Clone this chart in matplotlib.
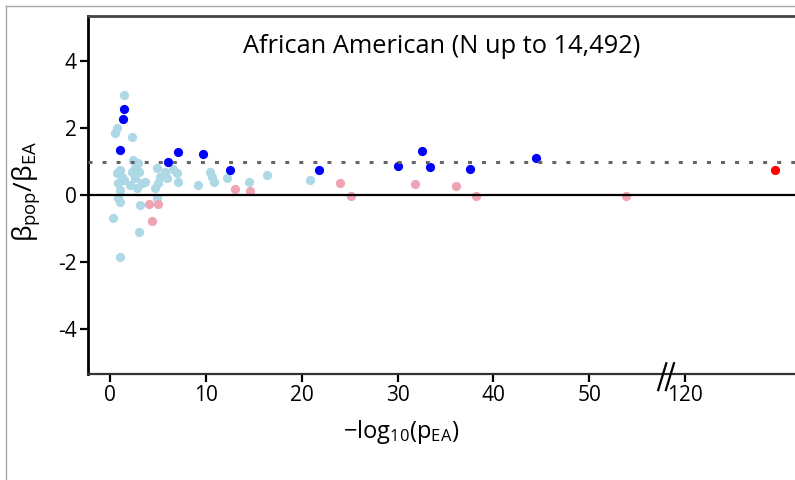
import matplotlib
matplotlib.use('Agg')
import matplotlib.pyplot as plt
from matplotlib.lines import Line2D
import matplotlib.transforms as mtransforms
import numpy as np

# values (x = -log10(p_EA), y = beta ratio)
light_x = [1.46, 0.7, 0.52, 2.26, 2.43, 2.96, 1.04, 0.7, 1.2, 0.87, 1.04, 2.26,
           2.6, 2.1, 2.8, 3.65, 4.86, 5.2, 5.04, 4.7, 5.74, 5.9, 7.1, 6.95,
           0.87, 4.86, 1.04, 0.35, 3.1, 3.06, 1.04, 2.6, 3.0, 6.6, 9.2, 10.4,
           10.6, 10.8, 12.2, 14.5, 16.4, 20.9, 1.5, 3.3]
light_y = [3.0, 2.0, 1.85, 1.75, 1.05, 0.95, 0.75, 0.65, 0.55, 0.35, 0.15, 0.7,
           0.5, 0.3, 0.2, 0.4, 0.8, 0.55, 0.35, 0.2, 0.7, 0.5, 0.4, 0.65,
           -0.1, -0.1, -0.22, -0.7, -0.3, -1.12, -1.85, 0.8, 0.7, 0.77, 0.3, 0.7,
           0.55, 0.4, 0.5, 0.38, 0.6, 0.45, 0.45, 0.35]

dark_x = [1.46, 1.39, 1.04, 7.1, 6.1, 9.7, 12.5, 21.8, 30.0, 32.6, 33.4, 37.6, 44.4]
dark_y = [2.57, 2.27, 1.35, 1.3, 0.98, 1.22, 0.75, 0.75, 0.87, 1.33, 0.83, 0.77, 1.1]

pink_x = [4.1, 5.04, 4.4, 13.0, 14.6, 24.0, 25.1, 31.8, 36.1, 38.2, 53.8]
pink_y = [-0.28, -0.28, -0.78, 0.17, 0.12, 0.35, -0.03, 0.33, 0.28, -0.02, -0.02]

red_x = [129.4]
red_y = [0.75]

xtick_vals = [0, 10, 20, 30, 40, 50, 120]
ytick_vals = [-4, -2, 0, 2, 4]

BREAK_AT = 56      # axis is cut between 56 and 116
BREAK_SHIFT = 60   # 120 is drawn where 60 would be


def squash(x):
    x = np.asarray(x, dtype=float)
    return np.where(x > BREAK_AT, x - BREAK_SHIFT, x)


plt.rcParams.update({
    'font.family': ['Open Sans', 'DejaVu Sans'],
    'mathtext.fontset': 'custom',
    'mathtext.rm': 'Open Sans',
    'mathtext.it': 'Open Sans',
})

fig = plt.figure(figsize=(7.95, 4.8), dpi=100)
ax = fig.add_axes([88 / 795, 106 / 480, 712 / 795, 358 / 480])

ms = 44
ax.scatter(squash(light_x), light_y, s=ms, color='#add8e6', marker='o', lw=0, zorder=2)
ax.scatter(squash(pink_x), pink_y, s=ms, color='#f0a3b3', marker='o', lw=0, zorder=3)
ax.scatter(squash(dark_x), dark_y, s=ms, color='#0000ff', marker='o', lw=0, zorder=4)
ax.scatter(squash(red_x), red_y, s=ms, color='#ff0000', marker='o', lw=0, zorder=4)

ax.axhline(1, color='#666666', lw=2.2, linestyle=(0, (1.3, 3.3)), zorder=5)
ax.axhline(0, color='black', lw=1.6, zorder=5)

ax.set_xlim(-2.3, 72)
ax.set_ylim(-5.36, 5.36)
ax.set_xticks(squash(xtick_vals))
ax.set_xticklabels([str(v) for v in xtick_vals])
ax.set_yticks(ytick_vals)
ax.set_yticklabels([str(v) for v in ytick_vals])
ax.tick_params(axis='both', direction='out', length=6, width=1.6, labelsize=15,
               colors='black', pad=2)

ax.spines['right'].set_visible(False)
ax.spines['left'].set_linewidth(2.0)
ax.spines['left'].set_color('black')
ax.spines['bottom'].set_linewidth(1.6)
ax.spines['bottom'].set_color('#333333')
ax.spines['top'].set_linewidth(2.0)
ax.spines['top'].set_color('#444444')

ax.set_ylabel(r'$\beta_{\mathrm{pop}}/\beta_{\mathrm{EA}}$', fontsize=19)
ax.yaxis.set_label_coords(-46 / 712, 0.51)
ax.set_xlabel(r'$\mathrm{-log_{10}(p_{EA})}$', fontsize=17)
ax.xaxis.set_label_coords((401 - 88) / 712, -44 / 358)

ax.text(0.496, 0.916, 'African American (N up to 14,492)', transform=ax.transAxes,
        ha='center', va='center', fontsize=18.3)

# axis break marks "//"
trans = mtransforms.blended_transform_factory(ax.transData, ax.transAxes)
for x0 in (57.2, 58.0):
    ax.add_line(Line2D([x0, x0 + 0.85], [-0.045, 0.03], transform=trans,
                       color='black', lw=1.6, clip_on=False, zorder=6))

# thin grey frame of the original panel
fig.add_artist(Line2D([5.5 / 795, 5.5 / 795], [0, 1 - 5.5 / 480],
                      transform=fig.transFigure, color='#a8a8a8', lw=1))
fig.add_artist(Line2D([5.5 / 795, 1], [1 - 5.5 / 480, 1 - 5.5 / 480],
                      transform=fig.transFigure, color='#a8a8a8', lw=1))

fig.savefig('out.png', dpi=100)
